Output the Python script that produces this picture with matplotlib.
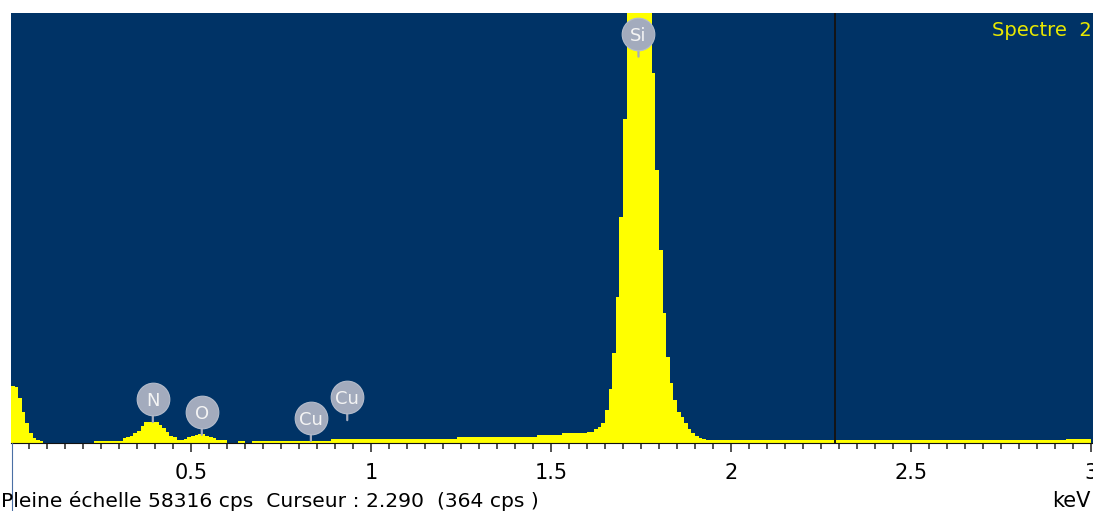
import matplotlib
matplotlib.use("Agg")
import matplotlib.pyplot as plt
import numpy as np
from matplotlib.transforms import offset_copy

# EDS spectrum, 10 eV per channel, counts in cps
channel_kev = 0.01
counts = [
    7770, 7600, 6100, 4250, 2700, 1300, 650, 450, 300, 0,
    0, 0, 0, 0, 0, 0, 0, 0, 0, 0,
    0, 0, 0, 300, 300, 300, 300, 300, 300, 300,
    300, 640, 800, 990, 1400, 1600, 2350, 2800, 2850, 2850,
    2800, 2400, 2000, 1500, 1000, 770, 450, 400, 540, 770,
    900, 1040, 1220, 1220, 990, 800, 640, 370, 370, 370,
    0, 0, 0, 300, 300, 0, 0, 320, 320, 320,
    320, 320, 320, 320, 320, 320, 320, 320, 320, 320,
    320, 320, 320, 320, 320, 320, 320, 320, 320, 500,
    500, 500, 500, 500, 500, 500, 500, 500, 500, 500,
    500, 500, 500, 500, 500, 500, 500, 500, 500, 500,
    500, 500, 500, 500, 500, 500, 500, 500, 500, 540,
    540, 540, 540, 540, 770, 770, 770, 770, 770, 770,
    770, 770, 770, 770, 770, 770, 770, 770, 770, 770,
    770, 770, 770, 770, 770, 770, 1085, 1085, 1085, 1085,
    1085, 1085, 1085, 1310, 1310, 1310, 1310, 1310, 1310, 1310,
    1530, 1530, 1850, 2210, 2750, 4475, 7320, 12200, 19800, 30650,
    43930, 58316, 58316, 58316, 58316, 58316, 58316, 58316, 50170, 37020,
    26170, 17630, 11660, 8140, 5830, 4200, 3530, 2710, 1900, 1360,
    950, 680, 540, 400, 370, 370, 370, 370, 370, 370,
    370, 370, 370, 370, 370, 370, 370, 370, 370, 370,
    370, 370, 370, 370, 370, 370, 370, 370, 370, 370,
    370, 370, 370, 370, 370, 370, 370, 370, 370, 370,
    365, 365, 365, 365, 365, 365, 365, 365, 365, 365,
    364, 364, 364, 364, 364, 364, 364, 364, 364, 364,
    360, 360, 360, 360, 360, 360, 360, 360, 360, 360,
    360, 360, 360, 360, 360, 360, 360, 360, 360, 360,
    360, 360, 360, 360, 360, 360, 360, 360, 360, 360,
    360, 360, 360, 360, 360, 360, 360, 360, 360, 360,
    360, 360, 360, 500, 500, 500, 500, 500, 500, 500,
]
full_scale = 58316
cursor_kev = 2.290
cursor_cps = 364
spectrum_name = "Spectre  2"

# element markers: name, energy (keV), where the pin touches (cps)
peak_labels = ["N", "O", "Cu", "Cu", "Si"]
peak_kev = [0.394, 0.530, 0.833, 0.934, 1.743]
pin_cps = [2850, 1100, 300, 3100, 52400]

tick_kev = [0.5, 1, 1.5, 2, 2.5, 3]
tick_text = ["0.5", "1", "1.5", "2", "2.5", "3"]

navy = "#003366"
yellow = "#ffff00"
grey = "#a3abbd"

W, H = 1093, 511
fig = plt.figure(figsize=(W / 100, H / 100), dpi=100)
fig.patch.set_facecolor("white")
ax = fig.add_axes([11 / W, 68 / H, 1082 / W, 430 / H])
ax.set_facecolor(navy)

edges = np.arange(len(counts) + 1) * channel_kev
ax.stairs(counts, edges, fill=True, color=yellow, lw=0)

ax.set_xlim(0, 1082 / 360)
ax.set_ylim(0, full_scale)

# cursor line
ax.axvline(cursor_kev, color="#141414", lw=1.4, zorder=3)

# element tags: grey disc on a short pin
for name, kev, cps in zip(peak_labels, peak_kev, pin_cps):
    tr = offset_copy(ax.transData, fig=fig, x=0, y=23, units="dots")
    ax.annotate("", xy=(kev, cps), xytext=(0, 23), textcoords="offset pixels",
                arrowprops=dict(arrowstyle="-", color=grey, lw=1.6,
                                shrinkA=0, shrinkB=0), zorder=4)
    ax.plot([kev], [cps], marker="o", ms=23.5, mfc=grey, mec="#b4bccb",
            mew=0.8, transform=tr, zorder=5, clip_on=False)
    ax.text(kev, cps, name, transform=tr, ha="center", va="center_baseline",
            color="#f4f4f4", fontsize=13, zorder=6)

fig.text(992 / W, 1 - 30 / H, spectrum_name,
         color="#e8e800", fontsize=14, ha="left", va="center")

# axis decoration
for s in ["top", "left", "right"]:
    ax.spines[s].set_visible(False)
ax.spines["bottom"].set_color("#111111")
ax.spines["bottom"].set_linewidth(0.8)
ax.set_yticks([])
ax.set_xticks(tick_kev)
ax.set_xticklabels(tick_text)
minor = [k * 0.05 for k in range(1, 61) if k % 10 != 0]
ax.set_xticks(minor, minor=True)
ax.tick_params(axis="x", which="major", length=6.5, width=1.1, color="#222222",
               labelsize=15, pad=8)
ax.tick_params(axis="x", which="minor", length=4, width=1.1, color="#222222")

fig.text(1 / W, 4.5 / H,
         "Pleine \u00e9chelle %d cps  Curseur : %.3f  (%d cps )" % (full_scale, cursor_kev, cursor_cps),
         fontsize=14.6, ha="left", va="baseline")
fig.text(1091 / W, 4.5 / H, "keV", fontsize=15, ha="right", va="baseline")

# widget border below the plot
fig.add_artist(plt.Line2D([11.5 / W, 11.5 / W], [0, 68 / H], color="#4a6fa5", lw=0.8))

fig.savefig("out.png", dpi=100)
